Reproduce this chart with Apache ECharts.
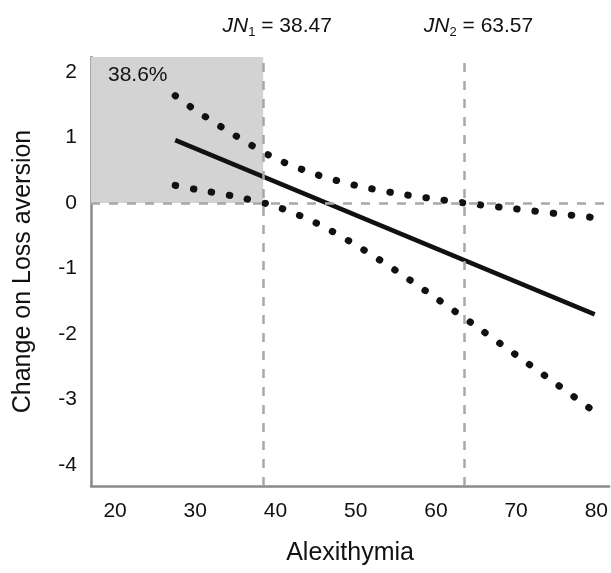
<!DOCTYPE html>
<html>
<head>
<meta charset="utf-8">
<script src="https://cdn.jsdelivr.net/npm/echarts@6/dist/echarts.min.js"></script>
<style>
  html, body { margin: 0; padding: 0; background: #fff; }
  #main { width: 611px; height: 573px; }
</style>
</head>
<body>
<div id="main"></div>
<script>
// values
const xTicks = [20, 30, 40, 50, 60, 70, 80];
const yTicks = [-4, -3, -2, -1, 0, 1, 2];
const bandX = [27.5, 30, 35, 40, 45, 50, 55, 60, 65, 70, 75, 79.6];
const upperCI = [1.64, 1.42, 1.03, 0.68, 0.44, 0.27, 0.15, 0.06, -0.02, -0.09, -0.16, -0.22];
const lowerCI = [0.27, 0.21, 0.10, -0.05, -0.30, -0.64, -1.03, -1.45, -1.88, -2.32, -2.76, -3.17];
const slopeX = [27.5, 79.8];
const slopeY = [0.96, -1.70];
const jnValues = [38.47, 63.57];
const regionLabel = "38.6%";

const xMin = 17.0, xMax = 81.6;
const yMin = -4.32, yMax = 2.23;

const font = "'Liberation Sans', Arial, sans-serif";
const rich = {
  i: { fontStyle: "italic", fontSize: 21, lineHeight: 26, fontFamily: font, color: "#111" },
  s: { fontSize: 13, lineHeight: 12, verticalAlign: "bottom", fontFamily: font, color: "#111" },
  n: { fontSize: 21, lineHeight: 26, fontFamily: font, color: "#111" },
};

function pairs(xs, ys) {
  return xs.map((x, i) => [x, ys[i]]);
}

const chart = echarts.init(document.getElementById("main"));
chart.setOption({
  animation: false,
  textStyle: { fontFamily: font },
  grid: { left: 91, right: 0, top: 57, bottom: 87 },
  xAxis: {
    type: "value",
    min: xMin,
    max: xMax,
    name: "Alexithymia",
    nameLocation: "middle",
    nameGap: 55,
    nameTextStyle: { fontSize: 25, color: "#111" },
    axisLine: { onZero: false, lineStyle: { color: "#8a8a8a", width: 2.5 } },
    axisTick: { show: false },
    splitLine: { show: false },
    axisLabel: { customValues: xTicks, fontSize: 21, color: "#111", margin: 15 },
  },
  yAxis: {
    type: "value",
    min: yMin,
    max: yMax,
    name: "Change on Loss aversion",
    nameLocation: "middle",
    nameGap: 55,
    nameTextStyle: { fontSize: 25, color: "#111" },
    axisLine: { show: true, onZero: false, lineStyle: { color: "#8a8a8a", width: 2.5 } },
    axisTick: { show: false },
    splitLine: { show: false },
    axisLabel: { customValues: yTicks, fontSize: 21, color: "#111", margin: 14 },
  },
  series: [
    {
      name: "refs",
      type: "line",
      data: [],
      z: 1,
      markArea: {
        silent: true,
        itemStyle: { color: "#d3d3d3" },
        label: {
          show: true,
          position: [17, 8],
          fontSize: 21,
          color: "#111",
          formatter: regionLabel,
        },
        data: [[{ xAxis: xMin, yAxis: 0 }, { xAxis: jnValues[0], yAxis: yMax }]],
      },
      markLine: {
        silent: true,
        symbol: "none",
        lineStyle: { type: [9, 9], color: "#a8a8a8", width: 2.5 },
        label: { show: false },
        data: [
          { yAxis: 0 },
          {
            xAxis: jnValues[0],
            label: { show: true, position: "end", distance: 18, offset: [14, 0],
              formatter: "{i|JN}{s|1}{n| = " + jnValues[0].toFixed(2) + "}", rich: rich },
          },
          {
            xAxis: jnValues[1],
            label: { show: true, position: "end", distance: 18, offset: [14, 0],
              formatter: "{i|JN}{s|2}{n| = " + jnValues[1].toFixed(2) + "}", rich: rich },
          },
        ],
      },
    },
    {
      name: "upper",
      type: "line",
      z: 3,
      symbol: "none",
      smooth: 0.3,
      data: pairs(bandX, upperCI),
      lineStyle: { color: "#111", width: 7, type: [0.5, 17.8], cap: "round" },
    },
    {
      name: "lower",
      type: "line",
      z: 3,
      symbol: "none",
      smooth: 0.3,
      data: pairs(bandX, lowerCI),
      lineStyle: { color: "#111", width: 7, type: [0.5, 17.8], cap: "round" },
    },
    {
      name: "estimate",
      type: "line",
      z: 4,
      symbol: "none",
      data: pairs(slopeX, slopeY),
      lineStyle: { color: "#111", width: 4.5 },
    },
  ],
});
</script>
</body>
</html>
